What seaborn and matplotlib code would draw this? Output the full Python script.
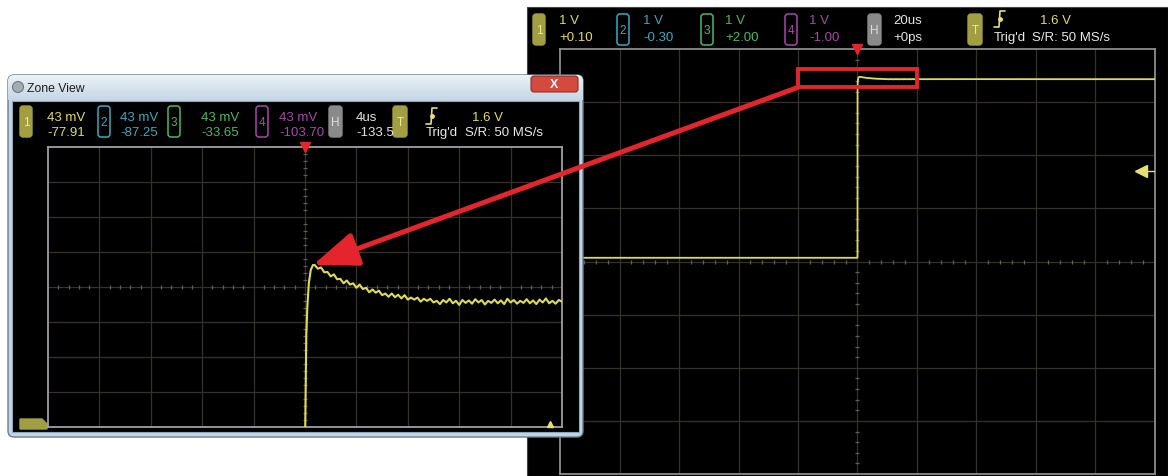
import numpy as np
import pandas as pd
import seaborn as sns
import matplotlib
matplotlib.use("Agg")
import matplotlib.pyplot as plt
from matplotlib.patches import Rectangle, FancyBboxPatch, ConnectionPatch, Polygon, Circle

# ---------------------------------------------------------------- data
# Channel 1 step response: time in microseconds, level in volts
sig_t = [-100.0, -60.0, -20.0, -0.05, 0.0, 0.02, 0.10, 0.18, 0.30, 0.45, 0.62,
         0.75, 1.00, 1.25, 1.50, 1.75, 2.00, 2.25, 2.50, 2.75, 3.00,
         3.25, 3.50, 3.75, 4.00, 4.25, 4.50, 4.75, 5.00, 5.25, 5.50,
         5.75, 6.00, 6.25, 6.50, 6.75, 7.00, 7.25, 7.50, 7.75, 8.00,
         8.25, 8.50, 8.75, 9.00, 9.25, 9.50, 9.75, 10.00, 10.25, 10.50,
         10.75, 11.00, 11.25, 11.50, 11.75, 12.00, 12.25, 12.50, 12.75, 13.00,
         13.25, 13.50, 13.75, 14.00, 14.25, 14.50, 14.75, 15.00, 15.25, 15.50,
         15.75, 16.00, 16.25, 16.50, 16.75, 17.00, 17.25, 17.50, 17.75, 18.00,
         18.25, 18.50, 18.75, 19.00, 19.25, 19.50, 19.75, 20.00,
         40.0, 70.0, 100.0]
sig_v = [-0.03, -0.03, -0.03, -0.03, -0.03, 3.180, 3.290, 3.325, 3.355, 3.371, 3.377,
         3.3770, 3.3725, 3.3740, 3.3680, 3.3685, 3.3630, 3.3655, 3.3595, 3.3600, 3.3545,
         3.3580, 3.3530, 3.3545, 3.3490, 3.3530, 3.3475, 3.3490, 3.3435, 3.3470, 3.3430,
         3.3455, 3.3400, 3.3420, 3.3380, 3.3420, 3.3375, 3.3405, 3.3360, 3.3400, 3.3345,
         3.3370, 3.3345, 3.3370, 3.3320, 3.3355, 3.3330, 3.3355, 3.3310, 3.3330, 3.3290,
         3.3340, 3.3310, 3.3355, 3.3300, 3.3330, 3.3280, 3.3340, 3.3305, 3.3335, 3.3295,
         3.3350, 3.3310, 3.3340, 3.3285, 3.3330, 3.3305, 3.3345, 3.3300, 3.3335, 3.3290,
         3.3355, 3.3310, 3.3340, 3.3295, 3.3330, 3.3305, 3.3350, 3.3300, 3.3335, 3.3290,
         3.3345, 3.3310, 3.3360, 3.3300, 3.3330, 3.3295, 3.3340, 3.3320,
         3.3330, 3.3320, 3.3320]
peak_t, peak_v = 0.62, 3.377

# Header readouts
channels = ["1", "2", "3", "4"]
main_scale = ["1 V", "1 V", "1 V", "1 V"]
main_offset = ["+0.10", "-0.30", "+2.00", "-1.00"]
zone_scale = ["43 mV", "43 mV", "43 mV", "43 mV"]
zone_offset = ["-77.91", "-87.25", "-33.65", "-103.70"]
main_timebase = ["20us", "+0ps"]
zone_timebase = ["4us", "-133.5"]
trigger_level = 1.6
trigger_text = ["1.6 V", "Trig'd", "S/R: 50 MS/s"]

# Display settings (value per division, screen centre)
main_v_div, main_v_center, main_t_div = 1.0, -0.10, 20.0
zone_v_div, zone_v_center, zone_t_div = 0.043, 3.35, 4.0

# ---------------------------------------------------------------- style
sns.set_theme(style="white")
plt.rcParams["font.family"] = ["Liberation Sans", "DejaVu Sans"]

W, H = 1168, 477
fig = plt.figure(figsize=(W / 100, H / 100), dpi=100)
fig.patch.set_facecolor("white")

TRACE = "#dedc52"
GRID = "#35322b"
TICK = "#615e56"
RED = "#e4252b"
CH_COL = ["#e2dc5c", "#3ea8c0", "#4ab86a", "#a848ac"]
OLIVE = "#a29f42"


def rect(x0, y0, x1, y1):
    return [x0 / W, 1 - y1 / H, (x1 - x0) / W, (y1 - y0) / H]


def overlay(z):
    a = fig.add_axes([0, 0, 1, 1])
    a.set_xlim(0, W)
    a.set_ylim(H, 0)
    a.axis("off")
    a.set_zorder(z)
    return a


def scope_axes(box, z, xlim, ylim, spine):
    a = fig.add_axes(rect(*box))
    a.set_zorder(z)
    a.set_facecolor("black")
    a.set_xlim(*xlim)
    a.set_ylim(*ylim)
    a.set_xticks([])
    a.set_yticks([])
    for s in a.spines.values():
        s.set_color(spine)
        s.set_linewidth(1.3)
    xs = np.linspace(xlim[0], xlim[1], 11)
    ys = np.linspace(ylim[0], ylim[1], 9)
    for x in xs[1:-1]:
        a.axvline(x, color=GRID, lw=0.9, zorder=1)
    for y in ys[1:-1]:
        a.axhline(y, color=GRID, lw=0.9, zorder=1)
    xc, yc = xs[5], ys[4]
    mx = [v for i, v in enumerate(np.linspace(xlim[0], xlim[1], 51)) if i % 5]
    my = [v for i, v in enumerate(np.linspace(ylim[0], ylim[1], 41)) if i % 5]
    a.plot(mx, [yc] * len(mx), ls="none", marker="|", ms=3.5, mew=0.9, color=TICK, zorder=2)
    a.plot([xc] * len(my), my, ls="none", marker="_", ms=3.5, mew=0.9, color=TICK, zorder=2)
    a.plot([xc], [ylim[1]], marker="v", ms=7, color=RED, clip_on=False, zorder=6)
    return a


def badge(ax, x0, y0, w, h, label, color, filled):
    if filled:
        p = FancyBboxPatch((x0, y0), w, h, boxstyle="round,pad=0,rounding_size=3",
                           fc=color, ec=color, lw=1, zorder=4)
        tc = "#eeeaa0" if color == OLIVE else "#dedede"
    else:
        p = FancyBboxPatch((x0, y0), w, h, boxstyle="round,pad=0,rounding_size=3",
                           fc="none", ec=color, lw=1.1, zorder=4)
        tc = color
    ax.add_patch(p)
    ax.text(x0 + w / 2, y0 + h / 2, label, color=tc, fontsize=8.5,
            ha="center", va="center", zorder=5)


def edge_symbol(ax, x, ymid):
    ax.plot([x, x + 5, x + 6, x + 11], [ymid + 8, ymid + 8, ymid - 8, ymid - 8],
            color="#e6e070", lw=1.2, zorder=5)
    ax.plot([x + 5.5], [ymid], marker="o", ms=2.5, color="#e6e070", zorder=5)


def header(ax, by, bh, r1, r2, bx, tx, scales, offsets, hx, htx, tb,
           trx, symx, lvlx, srx):
    fs = 9.5
    for i, ch in enumerate(channels):
        badge(ax, bx[i], by, 12, bh, ch, OLIVE if i == 0 else CH_COL[i], i == 0)
        ax.text(tx[i], r1, scales[i], color=CH_COL[i], fontsize=fs, va="center", zorder=5)
        ax.text(tx[i], r2, offsets[i], color=CH_COL[i], fontsize=fs, va="center", zorder=5)
    badge(ax, hx, by, 13, bh, "H", "#8a8a8a", True)
    ax.text(htx, r1, tb[0], color="#e4e4e4", fontsize=fs, va="center", zorder=5)
    ax.text(htx, r2, tb[1], color="#e4e4e4", fontsize=fs, va="center", zorder=5)
    badge(ax, trx, by, 14, bh, "T", OLIVE, True)
    edge_symbol(ax, symx, r1 - 1)
    ax.text(lvlx, r1, trigger_text[0], color=CH_COL[0], fontsize=fs, va="center", zorder=5)
    ax.text(symx, r2, trigger_text[1], color="#e8e8e8", fontsize=fs, va="center", zorder=5)
    ax.text(srx, r2, trigger_text[2], color="#e8e8e8", fontsize=fs, va="center", zorder=5)


signal = pd.DataFrame({"t": sig_t, "v": sig_v})

# ---------------------------------------------------------------- main scope
ax_bg = overlay(0)
ax_bg.add_patch(Rectangle((527, 8), W - 527, H - 8, fc="black", ec="#444444", lw=0.8))
header(ax_bg, 15, 31, 21, 38,
       [533, 617, 701, 785], [559, 643, 725, 809],
       main_scale, main_offset, 868, 893, main_timebase,
       968, 994, 1040, 1032)

m_ylim = (main_v_center - 4 * main_v_div, main_v_center + 4 * main_v_div)
m_xlim = (-5 * main_t_div, 5 * main_t_div)
ax_main = scope_axes((560, 50, 1155, 475), 1, m_xlim, m_ylim, "#8c8c8c")
sns.lineplot(data=signal, x="t", y="v", ax=ax_main, color=TRACE, lw=1.3,
             estimator=None, sort=False, legend=False, zorder=4)
ax_main.set_xlabel("")
ax_main.set_ylabel("")
# trigger level marker on the right edge
ax_main.plot([0.953 * m_xlim[1], m_xlim[1]], [trigger_level, trigger_level],
             color="#e6e070", lw=1.0, zorder=5)
ax_main.plot([0.953 * m_xlim[1]], [trigger_level], marker="<", ms=8,
             color="#e6e070", clip_on=False, zorder=5)

z_ylim = (zone_v_center - 4 * zone_v_div, zone_v_center + 4 * zone_v_div)
z_xlim = (-5 * zone_t_div, 5 * zone_t_div)
# zoomed region outline
ax_main.add_patch(Rectangle((z_xlim[0], z_ylim[0]), z_xlim[1] - z_xlim[0],
                            z_ylim[1] - z_ylim[0], fill=False, ec=RED, lw=2.8,
                            zorder=7))

# ---------------------------------------------------------------- zone window
ax_win = overlay(2)
win = FancyBboxPatch((8, 76), 575, 362, boxstyle="round,pad=0,rounding_size=6",
                     fc="#c3d5e5", ec="#687c8e", lw=1.0)
ax_win.add_patch(win)
grad = np.linspace(0, 1, 64)[:, None]
tb_cols = np.array([[0.93, 0.95, 0.97]]) * (1 - grad[..., None]) + \
    np.array([[0.77, 0.84, 0.90]]) * grad[..., None]
im = ax_win.imshow(tb_cols, extent=(8, 583, 101, 76), aspect="auto", zorder=1)
im.set_clip_path(win)
ax_win.set_xlim(0, W)
ax_win.set_ylim(H, 0)
ax_win.add_patch(Circle((18, 88), 5.5, fc="#a4adb5", ec="#6c7780", lw=0.8, zorder=2))
ax_win.text(27, 88.5, "Zone View", fontsize=8.8, color="#1c1c1c", va="center", zorder=2)
ax_win.add_patch(FancyBboxPatch((531, 77), 47, 16, boxstyle="round,pad=0,rounding_size=3",
                                fc="#d54a3e", ec="#8a2c24", lw=0.8, zorder=2))
ax_win.text(554.5, 85, "X", fontsize=9, color="white", fontweight="bold",
            ha="center", va="center", zorder=3)
ax_win.add_patch(Rectangle((12, 102), 567, 331, fc="black", ec="#8ea6ba", lw=0.8, zorder=2))
ax_win.add_patch(Polygon([(20, 430), (20, 420), (42, 420), (47, 425), (47, 430)],
                         closed=True, fc=OLIVE, ec=OLIVE, zorder=3))
header(ax_win, 107, 31, 118, 133,
       [20, 98, 168, 256], [47, 120, 201, 279],
       zone_scale, zone_offset, 329, 356, zone_timebase,
       393, 426, 472, 465)

ax_zone = scope_axes((48, 148, 562, 428), 3, z_xlim, z_ylim, "#a49fa8")
sns.lineplot(data=signal, x="t", y="v", ax=ax_zone, color=TRACE, lw=1.5,
             estimator=None, sort=False, legend=False, zorder=4)
ax_zone.set_xlabel("")
ax_zone.set_ylabel("")
ax_zone.plot([0.955 * z_xlim[1]], [z_ylim[0] + 0.004], marker="^", ms=5,
             color="#e6e070", clip_on=False, zorder=5)

# ---------------------------------------------------------------- callout arrow
arrow = ConnectionPatch(xyA=(z_xlim[0], z_ylim[0]), coordsA=ax_main.transData,
                        xyB=(peak_t, peak_v), coordsB=ax_zone.transData,
                        arrowstyle="-|>,head_length=2.75,head_width=1.05",
                        mutation_scale=10, color=RED, lw=3.6,
                        shrinkA=0, shrinkB=0)
arrow.set_zorder(10)
fig.add_artist(arrow)

fig.savefig("out.png", dpi=100, facecolor="white")
